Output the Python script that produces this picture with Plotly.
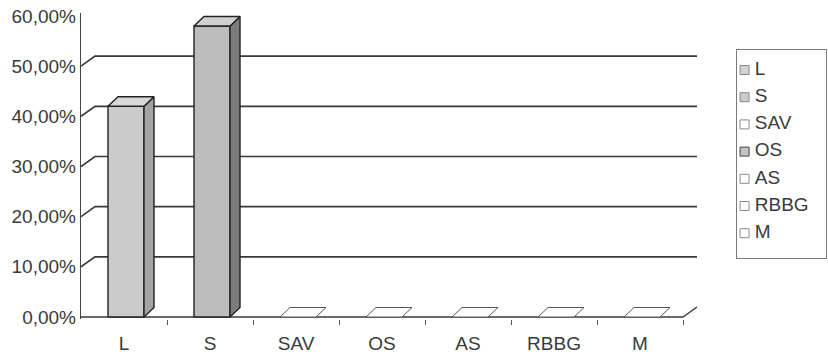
import plotly.graph_objects as go

# ---- data -------------------------------------------------------------
categories = ["L", "S", "SAV", "OS", "AS", "RBBG", "M"]
shares = [42.0, 58.0, 0.0, 0.0, 0.0, 0.0, 0.0]          # percent
y_ticks = [0, 10, 20, 30, 40, 50, 60]
y_tick_labels = ["0,00%", "10,00%", "20,00%", "30,00%", "40,00%", "50,00%", "60,00%"]

# ---- styling ----------------------------------------------------------
front_colors = ["#cbcbcb", "#bdbdbd", "#ffffff", "#ffffff", "#ffffff", "#ffffff", "#ffffff"]
side_colors = ["#a3a3a3", "#7c7c7c", "#ffffff", "#ffffff", "#ffffff", "#ffffff", "#ffffff"]
top_colors = ["#d8d8d8", "#d0d0d0", "#ffffff", "#ffffff", "#ffffff", "#ffffff", "#ffffff"]
legend_fill = ["#d2d2d2", "#cacaca", "#ffffff", "#c4c4c4", "#ffffff", "#ffffff", "#ffffff"]
legend_edge = ["#8a8a8a", "#8a8a8a", "#8a8a8a", "#444444", "#8a8a8a", "#8a8a8a", "#8a8a8a"]

FONT = "Liberation Sans, Arial, sans-serif"
INK = "#3a3a3a"
W, H = 828, 356

# plot frame in pixels
LEFT, RIGHT, FLOOR, TOP = 81, 700, 317, 13
CAT_PX = 86.0                       # pixels per category slot
VAL_PX = (FLOOR - 16) / 60.0        # pixels per percentage point
Y_MIN = -0.4
Y_MAX = 60.6

n = len(categories)
x_range = [-0.5, -0.5 + (RIGHT - LEFT) / CAT_PX]
y_domain = [(H - (FLOOR - Y_MIN * VAL_PX)) / H, (H - (FLOOR - Y_MAX * VAL_PX)) / H]

# oblique depth offsets (pixels -> data units)
WALL_DX, WALL_DY = 14 / CAT_PX, 10 / VAL_PX
BAR_DX, BAR_DY = 10 / CAT_PX, 9.5 / VAL_PX
BAR_HALF = 18 / CAT_PX
BAR_SHIFT = 2 / CAT_PX

fig = go.Figure()

# back-wall gridlines with their diagonal run from the value axis
gx, gy = [], []
for v in y_ticks[1:-1]:
    gx += [-0.5, -0.5 + WALL_DX, n - 0.5 + WALL_DX, None]
    gy += [v, v + WALL_DY, v + WALL_DY, None]
fig.add_trace(go.Scatter(x=gx, y=gy, mode="lines",
                         line=dict(color="#383838", width=1.6),
                         hoverinfo="skip", showlegend=False))

# floor edge
fig.add_trace(go.Scatter(x=[-0.5, n - 0.5, n - 0.5 + WALL_DX], y=[0, 0, WALL_DY],
                         mode="lines", line=dict(color="#3a3a3a", width=1.4),
                         hoverinfo="skip", showlegend=False))

# pseudo-3D columns
for i, (cat, v) in enumerate(zip(categories, shares)):
    c = i + BAR_SHIFT
    x0, x1 = c - BAR_HALF, c + BAR_HALF
    edge = dict(color="#222222", width=1.4) if v > 0 else dict(color="#555555", width=1.0)
    if v > 0:
        fig.add_trace(go.Scatter(x=[x0, x1, x1, x0, x0], y=[0, 0, v, v, 0],
                                 fill="toself", fillcolor=front_colors[i], mode="lines",
                                 line=edge, name=cat, hoverinfo="name", showlegend=False))
        fig.add_trace(go.Scatter(x=[x1, x1 + BAR_DX, x1 + BAR_DX, x1, x1],
                                 y=[0, BAR_DY, v + BAR_DY, v, 0],
                                 fill="toself", fillcolor=side_colors[i], mode="lines",
                                 line=edge, hoverinfo="skip", showlegend=False))
    fig.add_trace(go.Scatter(x=[x0, x0 + BAR_DX, x1 + BAR_DX, x1, x0],
                             y=[v, v + BAR_DY, v + BAR_DY, v, v],
                             fill="toself", fillcolor=top_colors[i], mode="lines",
                             line=edge, hoverinfo="skip", showlegend=False))

# legend panel on its own small axes
leg_y = list(range(n))
fig.add_trace(go.Scatter(x=[0.085] * n, y=leg_y, mode="markers",
                         marker=dict(symbol="square", size=9, color=legend_fill,
                                     line=dict(color=legend_edge, width=1)),
                         xaxis="x2", yaxis="y2", hoverinfo="skip", showlegend=False))
fig.add_trace(go.Scatter(x=[0.2] * n, y=leg_y, mode="text", text=categories,
                         textposition="middle right",
                         textfont=dict(family=FONT, size=19, color=INK),
                         xaxis="x2", yaxis="y2", hoverinfo="skip", showlegend=False))

ITEM_TOP, ITEM_GAP, BOX_TOP, BOX_BOTTOM = 70, 27.2, 50, 258

fig.update_layout(
    width=W, height=H, autosize=False,
    margin=dict(l=0, r=0, t=0, b=0),
    paper_bgcolor="#ffffff", plot_bgcolor="rgba(0,0,0,0)",
    showlegend=False,
    font=dict(family=FONT, color=INK),
    xaxis=dict(
        domain=[LEFT / W, RIGHT / W], range=x_range, automargin=False,
        tickmode="array", tickvals=list(range(n)), ticktext=categories,
        ticks="", ticklabelstandoff=11, tickfont=dict(size=19, color=INK),
        showgrid=False, zeroline=False, showline=False,
        minor=dict(tickmode="array", tickvals=[k + 0.5 for k in range(n)],
                   ticks="outside", ticklen=5, tickcolor="#555555", tickwidth=1.2,
                   showgrid=False),
    ),
    # value labels sit close to the axis line
    yaxis=dict(
        domain=y_domain, range=[Y_MIN, Y_MAX], automargin=False,
        tickmode="array", tickvals=y_ticks, ticktext=y_tick_labels,
        ticks="", tickfont=dict(size=19, color=INK), ticklabelstandoff=0,
        showgrid=False, zeroline=False,
        showline=True, linecolor="#444444", linewidth=1.4,
    ),
    # short outward tick marks on the value axis
    yaxis3=dict(
        overlaying="y", anchor="x", side="left", matches="y",
        range=[Y_MIN, Y_MAX], automargin=False,
        tickmode="array", tickvals=y_ticks, showticklabels=False,
        ticks="outside", ticklen=4, tickcolor="#444444", tickwidth=1.2,
        showgrid=False, zeroline=False, showline=False,
    ),
    xaxis2=dict(domain=[737 / W, 826 / W], range=[0, 1], anchor="y2",
                showgrid=False, zeroline=False, showticklabels=False, ticks="",
                showline=True, mirror=True, linecolor="#7a7a7a", linewidth=1),
    yaxis2=dict(domain=[(H - BOX_BOTTOM) / H, (H - BOX_TOP) / H],
                range=[(BOX_BOTTOM - ITEM_TOP) / ITEM_GAP, -(ITEM_TOP - BOX_TOP) / ITEM_GAP],
                anchor="x2",
                showgrid=False, zeroline=False, showticklabels=False, ticks="",
                showline=True, mirror=True, linecolor="#7a7a7a", linewidth=1),
)

fig.write_html("out.html")
